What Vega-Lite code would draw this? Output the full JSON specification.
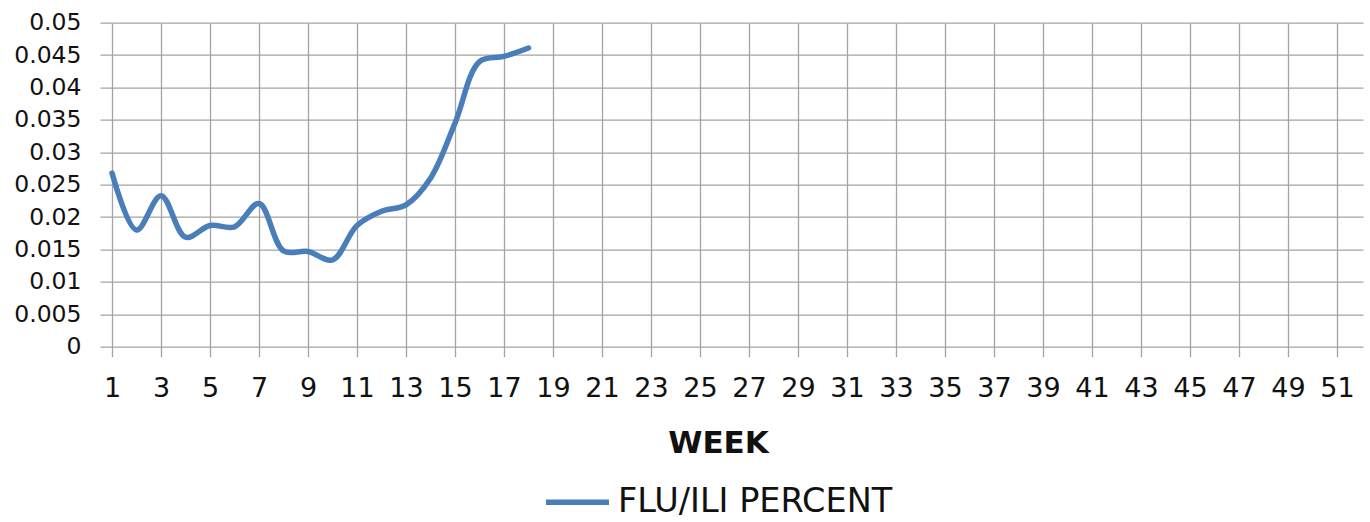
{
  "$schema": "https://vega.github.io/schema/vega-lite/v6.json",
  "autosize": {"type": "none"},
  "padding": {"left": 100, "top": 22.7, "right": 7, "bottom": 175.3},
  "width": 1263,
  "height": 324,
  "background": "white",
  "config": {
    "view": {"stroke": null},
    "font": "DejaVu Sans"
  },
  "data": {
    "values": [
      {"week": 1, "value": 0.0268, "series": "FLU/ILI PERCENT"},
      {"week": 2, "value": 0.0180, "series": "FLU/ILI PERCENT"},
      {"week": 3, "value": 0.0233, "series": "FLU/ILI PERCENT"},
      {"week": 4, "value": 0.0169, "series": "FLU/ILI PERCENT"},
      {"week": 5, "value": 0.0187, "series": "FLU/ILI PERCENT"},
      {"week": 6, "value": 0.0185, "series": "FLU/ILI PERCENT"},
      {"week": 7, "value": 0.0221, "series": "FLU/ILI PERCENT"},
      {"week": 8, "value": 0.0148, "series": "FLU/ILI PERCENT"},
      {"week": 9, "value": 0.0147, "series": "FLU/ILI PERCENT"},
      {"week": 10, "value": 0.0134, "series": "FLU/ILI PERCENT"},
      {"week": 11, "value": 0.0187, "series": "FLU/ILI PERCENT"},
      {"week": 12, "value": 0.0209, "series": "FLU/ILI PERCENT"},
      {"week": 13, "value": 0.0219, "series": "FLU/ILI PERCENT"},
      {"week": 14, "value": 0.0260, "series": "FLU/ILI PERCENT"},
      {"week": 15, "value": 0.0345, "series": "FLU/ILI PERCENT"},
      {"week": 16, "value": 0.0440, "series": "FLU/ILI PERCENT"},
      {"week": 17, "value": 0.0448, "series": "FLU/ILI PERCENT"},
      {"week": 18, "value": 0.0461, "series": "FLU/ILI PERCENT"}
    ]
  },
  "mark": {"type": "line", "interpolate": "catmull-rom", "strokeWidth": 5.5, "strokeCap": "round", "clip": true},
  "encoding": {
    "x": {
      "field": "week",
      "type": "quantitative",
      "scale": {"domain": [0.51, 52.06], "nice": false, "zero": false},
      "axis": {
        "values": [1,3,5,7,9,11,13,15,17,19,21,23,25,27,29,31,33,35,37,39,41,43,45,47,49,51],
        "title": "WEEK",
        "titleFont": "DejaVu Sans",
        "titleFontWeight": "bold",
        "titleFontSize": 31,
        "titleColor": "#111",
        "titleX": 618,
        "titlePadding": 27,
        "domain": false,
        "grid": true,
        "gridColor": "#a3a3a3",
        "gridWidth": 1.3,
        "ticks": true,
        "tickSize": 10,
        "tickColor": "#a3a3a3",
        "tickWidth": 1.3,
        "labelFontSize": 27,
        "labelColor": "#111",
        "labelPadding": 19,
        "labelFlush": false,
        "labelOverlap": false
      }
    },
    "y": {
      "field": "value",
      "type": "quantitative",
      "scale": {"domain": [0, 0.05], "nice": false},
      "axis": {
        "values": [0,0.005,0.01,0.015,0.02,0.025,0.03,0.035,0.04,0.045,0.05],
        "format": "~g",
        "title": null,
        "domain": false,
        "ticks": false,
        "grid": true,
        "gridColor": "#a3a3a3",
        "gridWidth": 1.3,
        "labelFontSize": 23.5,
        "labelColor": "#111",
        "labelPadding": 19,
        "labelFlush": false
      }
    },
    "color": {
      "field": "series",
      "type": "nominal",
      "scale": {"range": ["#4a7ebb"]},
      "legend": {
        "title": null,
        "orient": "none",
        "legendX": 443,
        "legendY": 445,
        "symbolType": "stroke",
        "symbolSize": 3969,
        "symbolStrokeWidth": 5.5,
        "labelFontSize": 33.5,
        "labelColor": "#111",
        "labelOffset": 6,
        "labelLimit": 600
      }
    }
  }
}
